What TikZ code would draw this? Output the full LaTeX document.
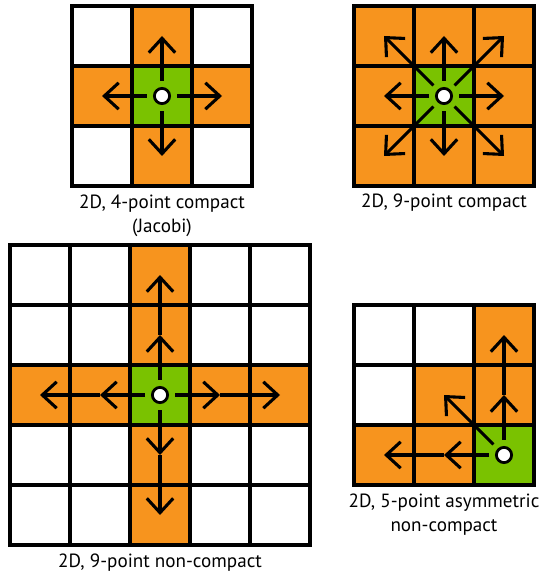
\documentclass[tikz,border=0pt]{standalone}
\usepackage{fontspec}
\setmainfont{PT Sans}
\usetikzlibrary{arrows.meta,calc}
\definecolor{stencil}{HTML}{F7941E}
\definecolor{point}{HTML}{7AC200}

\begin{document}
\begin{tikzpicture}[x=1.5cm,y=1.5cm,
  gridline/.style={line width=2.4pt,line cap=rect},
  ctr/.style={circle,draw,fill=white,line width=2pt,inner sep=0pt,minimum size=3.8mm},
  arr/.style={-{Straight Barb[length=3.6mm,width=6.6mm]},line width=2.2pt,shorten <=1.5mm},
  arrx/.style={-{Straight Barb[length=3.6mm,width=6.6mm]},line width=2.2pt},
  lbl/.style={font=\fontsize{13.6pt}{17pt}\selectfont,align=center,anchor=base}]
\useasboundingbox (0,-9.5333) rectangle (9.1167,0);

% 2D, 4-point compact
\begin{scope}[shift={(1.2,-3.1)}]
\fill[stencil] (1,0) rectangle (2,3);
\fill[stencil] (0,1) rectangle (3,2);
\fill[point] (1,1) rectangle (2,2);
\foreach \i in {0,...,3} {
  \draw[gridline] (\i,0) -- (\i,3);
  \draw[gridline] (0,\i) -- (3,\i);
}
\node[ctr] (jc) at (1.5,1.5) {};
\foreach \a in {0,90,180,270} {
  \coordinate (j\a) at ($(jc)+(\a:1)$);
  \draw[arr] (jc) -- (j\a);
}
\node[lbl] (jl) at (1.5,-0.78) {2D, 4-point compact\\(Jacobi)};
\end{scope}

% 2D, 9-point compact
\begin{scope}[shift={(5.9,-3.1)}]
\fill[stencil] (0,0) rectangle (3,3);
\fill[point] (1,1) rectangle (2,2);
\foreach \i in {0,...,3} {
  \draw[gridline] (\i,0) -- (\i,3);
  \draw[gridline] (0,\i) -- (3,\i);
}
\node[ctr] (cc) at (1.5,1.5) {};
\foreach \a in {0,45,...,315} {
  \coordinate (c\a) at ($(cc)+({round(cos(\a))},{round(sin(\a))})$);
  \draw[arr] (cc) -- (c\a);
}
\node[lbl] (cl) at (1.5,-0.35) {2D, 9-point compact};
\end{scope}

% 2D, 9-point non-compact
\begin{scope}[shift={(0.1667,-9.0833)}]
\fill[stencil] (2,0) rectangle (3,5);
\fill[stencil] (0,2) rectangle (5,3);
\fill[point] (2,2) rectangle (3,3);
\foreach \i in {0,...,5} {
  \draw[gridline] (\i,0) -- (\i,5);
  \draw[gridline] (0,\i) -- (5,\i);
}
\node[ctr] (nc) at (2.5,2.5) {};
\foreach \a in {0,90,180,270} {
  \coordinate (n\a a) at ($(nc)+(\a:1)$);
  \coordinate (n\a b) at ($(nc)+(\a:2)$);
  \draw[arr] (nc) -- (n\a a);
  \draw[arrx] (n\a a) -- (n\a b);
}
\node[lbl] (nl) at (2.5,-0.37) {2D, 9-point non-compact};
\end{scope}

% 2D, 5-point asymmetric non-compact
\begin{scope}[shift={(5.9,-8.0833)}]
\fill[stencil] (2,0) rectangle (3,3);
\fill[stencil] (0,0) rectangle (3,1);
\fill[stencil] (1,1) rectangle (2,2);
\fill[point] (2,0) rectangle (3,1);
\foreach \i in {0,...,3} {
  \draw[gridline] (\i,0) -- (\i,3);
  \draw[gridline] (0,\i) -- (3,\i);
}
\node[ctr] (ac) at (2.5,0.5) {};
\coordinate (au) at (2.5,1.5);
\coordinate (auu) at (2.5,2.5);
\coordinate (al) at (1.5,0.5);
\coordinate (all) at (0.5,0.5);
\coordinate (ad) at (1.5,1.5);
\draw[arr] (ac) -- (au);
\draw[arrx] (au) -- (auu);
\draw[arr] (ac) -- (al);
\draw[arrx] (al) -- (all);
\draw[arr] (ac) -- (ad);
\node[lbl] (alb) at (1.5,-0.78) {2D, 5-point asymmetric\\non-compact};
\end{scope}
\end{tikzpicture}
\end{document}
